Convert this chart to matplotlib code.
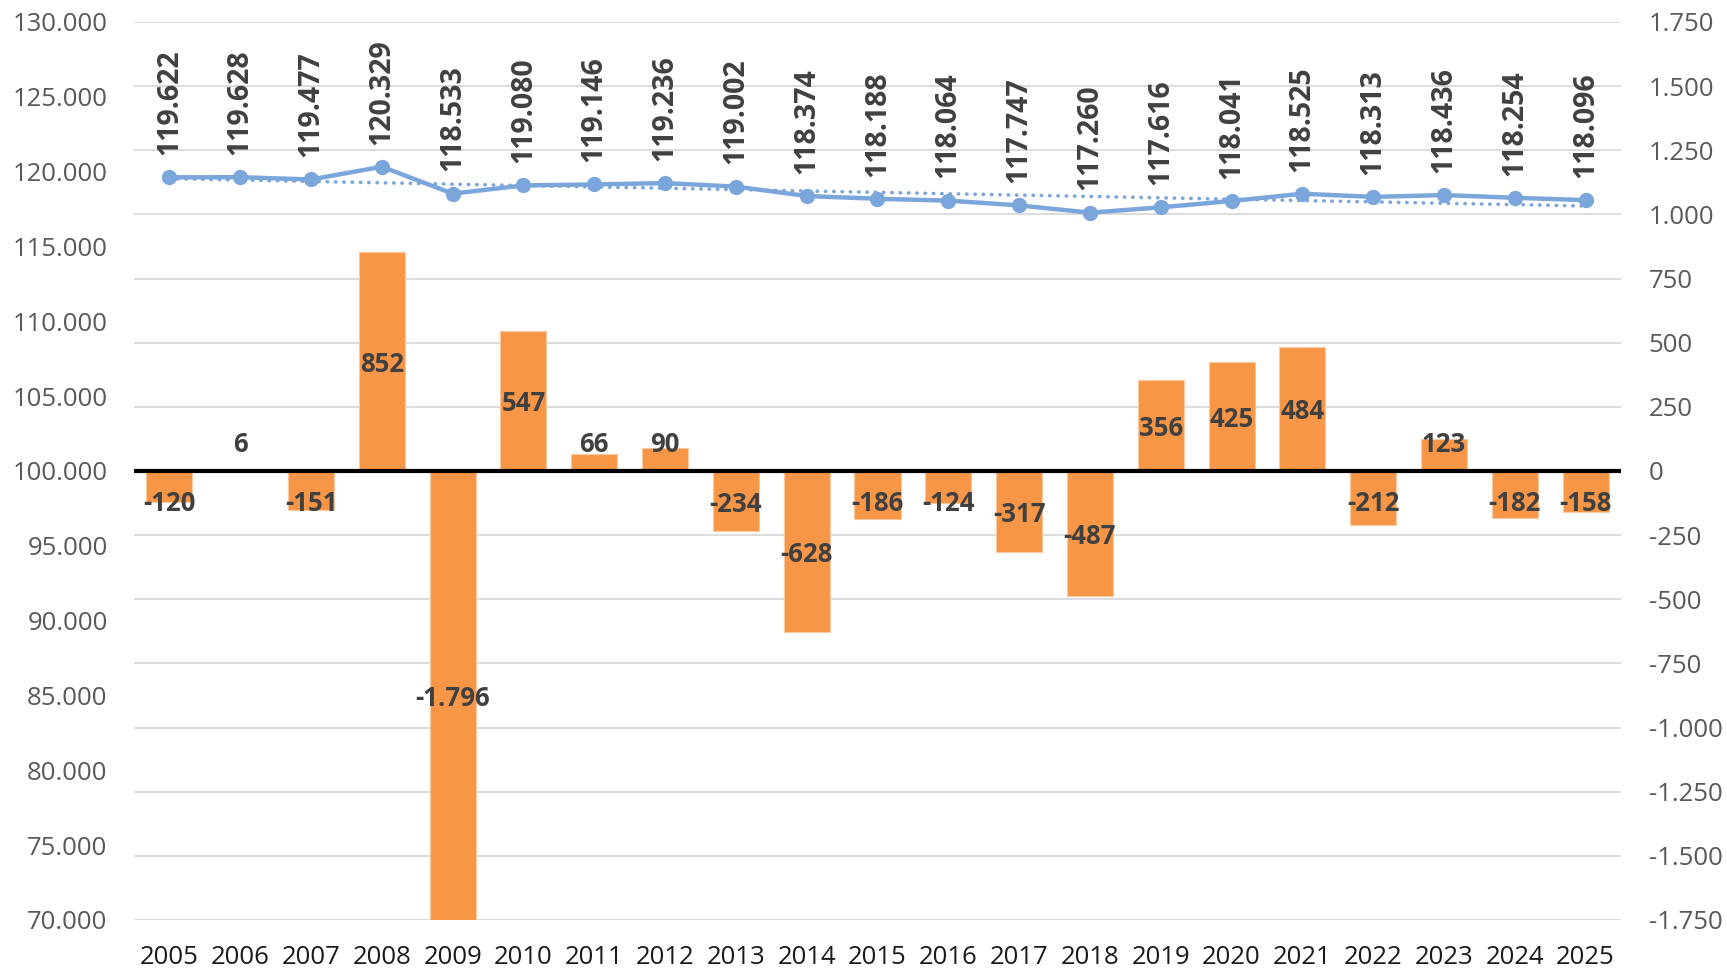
import matplotlib
matplotlib.use("Agg")
import matplotlib.pyplot as plt
import numpy as np
from matplotlib.ticker import FuncFormatter, MultipleLocator

years = ["2005", "2006", "2007", "2008", "2009", "2010", "2011", "2012", "2013", "2014",
         "2015", "2016", "2017", "2018", "2019", "2020", "2021", "2022", "2023", "2024", "2025"]
totals = [119622, 119628, 119477, 120329, 118533, 119080, 119146, 119236, 119002, 118374,
          118188, 118064, 117747, 117260, 117616, 118041, 118525, 118313, 118436, 118254, 118096]
changes = [-120, 6, -151, 852, -1796, 547, 66, 90, -234, -628,
           -186, -124, -317, -487, 356, 425, 484, -212, 123, -182, -158]

BAR = "#F79646"
LINE = "#7BA6DC"
TXT = "#404040"
TICK = "#595959"

plt.rcParams["font.family"] = ["Open Sans", "DejaVu Sans"]

def dots(v, pos=None):
    s = f"{abs(int(round(v))):,}".replace(",", ".")
    return ("-" if v < 0 else "") + s

fig = plt.figure(figsize=(17.27, 9.69), dpi=100)
ax = fig.add_axes([0.0776, 0.0506, 0.861, 0.9267])
ax2 = ax.twinx()

x = np.arange(len(years))

# bars on secondary axis
lo, hi = -1750, 1750
ax2.set_ylim(lo, hi)
ax2.yaxis.set_major_locator(MultipleLocator(250))
ax2.yaxis.set_major_formatter(FuncFormatter(dots))
ax2.grid(axis="y", color="#D9D9D9", lw=1.3)
ax2.set_axisbelow(True)
ax2.bar(x, changes, width=0.65, color=BAR, edgecolor="#FAC9A0", linewidth=0.8, zorder=2)
ax2.axhline(0, color="black", lw=3, zorder=3)
for xi, v in zip(x, changes):
    vc = max(min(v, hi), lo)
    off = max(abs(vc) / 2, 115)
    y = (off if v >= 0 else -off) - 12
    ax2.text(xi, y, dots(v), ha="center", va="center", fontsize=18.5,
             fontweight="bold", color=TXT, zorder=4)

# line on primary axis
ax.set_zorder(ax2.get_zorder() + 1)
ax.patch.set_visible(False)
ax.set_ylim(70000, 130000)
ax.yaxis.set_major_locator(MultipleLocator(5000))
ax.yaxis.set_major_formatter(FuncFormatter(dots))
coef = np.polyfit(x, totals, 1)
ax.plot(x, np.polyval(coef, x), color=LINE, lw=2.6, ls=(0, (0.1, 2.2)),
        dash_capstyle="round", zorder=3)
ax.plot(x, totals, color=LINE, lw=3.2, marker="o", ms=10, zorder=4)
for xi, v in zip(x, totals):
    ax.annotate(dots(v), (xi, v), xytext=(0, 16), textcoords="offset points",
                rotation=90, ha="center", va="bottom", fontsize=20.5,
                fontweight="bold", color=TXT, zorder=5)

ax.set_xlim(-0.5, len(years) - 0.5)
ax.set_xticks(x)
ax.set_xticklabels(years)

for a in (ax, ax2):
    for s in a.spines.values():
        s.set_visible(False)
ax.tick_params(axis="x", length=0, pad=18, labelsize=18.5, labelcolor="#1a1a1a")
ax.tick_params(axis="y", length=0, pad=19, labelsize=18.5, labelcolor=TICK)
ax2.tick_params(axis="y", length=0, pad=20, labelsize=18.5, labelcolor=TICK)

fig.savefig("out.png", dpi=100)
